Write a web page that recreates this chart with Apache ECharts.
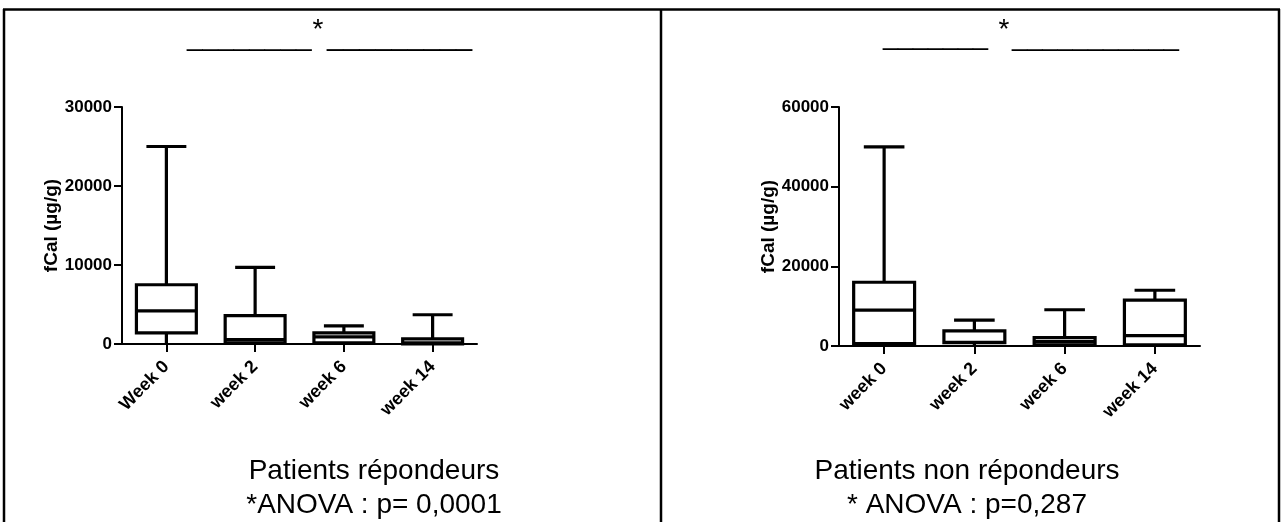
<!DOCTYPE html>
<html>
<head>
<meta charset="utf-8">
<script src="https://cdn.jsdelivr.net/npm/echarts@6/dist/echarts.min.js"></script>
<style>
html,body{margin:0;padding:0;background:#fff;}
#chart{width:1283px;height:522px;}
</style>
</head>
<body>
<div id="chart"></div>
<script>
// ---- data ----
const categoriesLeft = ['Week 0', 'week 2', 'week 6', 'week 14'];
const categoriesRight = ['week 0', 'week 2', 'week 6', 'week 14'];
// Patients répondeurs (fCal µg/g)
const respMin    = [0, 0, 0, 0];
const respQ1     = [1400, 150, 150, 0];
const respMedian = [4200, 550, 900, 150];
const respQ3     = [7500, 3600, 1400, 650];
const respMax    = [25000, 9700, 2300, 3700];
// Patients non répondeurs (fCal µg/g)
const nonMin    = [0, 200, 0, 0];
const nonQ1     = [600, 850, 300, 300];
const nonMedian = [9000, 900, 1100, 2600];
const nonQ3     = [16000, 3800, 2100, 11500];
const nonMax    = [50000, 6500, 9100, 14000];
const leftTicks = { min: 0, max: 30000, interval: 10000 };
const rightTicks = { min: 0, max: 60000, interval: 20000 };
const titleLeft = ['Patients répondeurs', '*ANOVA : p= 0,0001'];
const titleRight = ['Patients non répondeurs', '* ANOVA : p=0,287'];
const yName = 'fCal (µg/g)';

function build(mins, q1, med, q3, max) {
  return mins.map((m, i) => [i, m, q1[i], med[i], q3[i], max[i]]);
}

function renderBox(params, api) {
  const idx = api.value(0);
  const x = api.coord([idx, 0])[0];
  const band = api.size([1, 0])[0];
  const bw = band * 0.675, cw = band * 0.45;
  const y = (k) => api.coord([idx, api.value(k)])[1];
  const yMin = y(1), yQ1 = y(2), yMed = y(3), yQ3 = y(4), yMax = y(5);
  const ls = { stroke: '#000', lineWidth: 3.2, fill: null };
  return {
    type: 'group',
    children: [
      { type: 'line', shape: { x1: x, y1: yQ3, x2: x, y2: yMax }, style: ls },
      { type: 'line', shape: { x1: x - cw / 2, y1: yMax, x2: x + cw / 2, y2: yMax }, style: ls },
      { type: 'line', shape: { x1: x, y1: yQ1, x2: x, y2: yMin }, style: ls },
      { type: 'rect', shape: { x: x - bw / 2, y: yQ3, width: bw, height: yQ1 - yQ3 },
        style: { stroke: '#000', lineWidth: 3.2, fill: '#fff' } },
      { type: 'line', shape: { x1: x - bw / 2, y1: yMed, x2: x + bw / 2, y2: yMed }, style: ls }
    ]
  };
}

const FONT = 'Liberation Sans, Arial, sans-serif';

function xAxisCfg(gi, cats) {
  return {
    type: 'category', gridIndex: gi, data: cats, boundaryGap: true,
    axisLine: { show: true, lineStyle: { color: '#000', width: 2 } },
    axisTick: { show: true, alignWithLabel: true, length: 8, lineStyle: { color: '#000', width: 2 } },
    axisLabel: { rotate: 45, margin: 20, color: '#000', fontWeight: 'bold', fontSize: 18, fontFamily: FONT },
    splitLine: { show: false }
  };
}
function yAxisCfg(gi, t) {
  return {
    type: 'value', gridIndex: gi, min: t.min, max: t.max, interval: t.interval,
    name: yName, nameLocation: 'middle', nameGap: 61,
    nameTextStyle: { color: '#000', fontWeight: 'bold', fontSize: 19, fontFamily: FONT },
    axisLine: { show: true, lineStyle: { color: '#000', width: 2 } },
    axisTick: { show: true, length: 8, lineStyle: { color: '#000', width: 2 } },
    axisLabel: { margin: 10, color: '#000', fontWeight: 'bold', fontSize: 17, fontFamily: FONT,
      formatter: (v) => String(v) },
    splitLine: { show: false }
  };
}

function txt(x, y, s, size, align) {
  return { type: 'text', x: x, y: y, style: { text: s, fill: '#000', font: size + 'px ' + FONT, align: align || 'center', verticalAlign: 'middle' } };
}
function frameLine(x1, y1, x2, y2) {
  return { type: 'line', shape: { x1, y1, x2, y2 }, style: { stroke: '#000', lineWidth: 2.5 } };
}
function bar(x, y, s, size) {
  return { type: 'text', x: x, y: y, style: { text: s, fill: '#000', font: size + 'px ' + FONT, align: 'left', verticalAlign: 'middle' } };
}

const chart = echarts.init(document.getElementById('chart'));
chart.setOption({
  animation: false,
  backgroundColor: '#fff',
  grid: [
    { left: 122, top: 107, width: 355, height: 237 },
    { left: 839, top: 107, width: 361, height: 239 }
  ],
  xAxis: [xAxisCfg(0, categoriesLeft), xAxisCfg(1, categoriesRight)],
  yAxis: [yAxisCfg(0, leftTicks), yAxisCfg(1, rightTicks)],
  series: [
    { type: 'custom', xAxisIndex: 0, yAxisIndex: 0, renderItem: renderBox,
      encode: { x: 0, y: [1, 2, 3, 4, 5] }, data: build(respMin, respQ1, respMedian, respQ3, respMax) },
    { type: 'custom', xAxisIndex: 1, yAxisIndex: 1, renderItem: renderBox,
      encode: { x: 0, y: [1, 2, 3, 4, 5] }, data: build(nonMin, nonQ1, nonMedian, nonQ3, nonMax) }
  ],
  graphic: [
    frameLine(3, 9.5, 1280, 9.5),
    frameLine(4, 9, 4, 522),
    frameLine(661, 9, 661, 522),
    frameLine(1279, 9, 1279, 522),
    txt(318, 30, '*', 28),
    bar(187, 37, '________', 28),
    bar(327, 37, '_________', 29),
    txt(1004, 30, '*', 28),
    bar(883, 37, '_______', 27),
    bar(1012, 37, '___________', 27.3),
    txt(374, 471, titleLeft[0], 28),
    txt(374, 505, titleLeft[1], 28),
    txt(967, 471, titleRight[0], 28),
    txt(967, 505, titleRight[1], 28)
  ]
});
</script>
</body>
</html>
